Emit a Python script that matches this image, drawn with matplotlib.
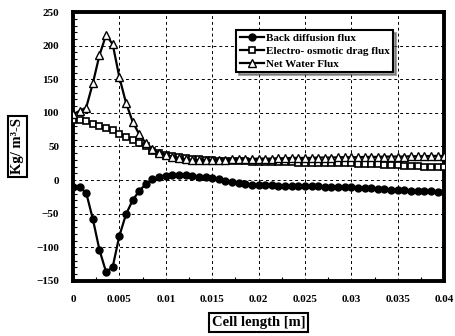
import numpy as np
import matplotlib
matplotlib.use("Agg")
import matplotlib.pyplot as plt
from matplotlib.ticker import MultipleLocator

plt.rcParams['font.family'] = ['Liberation Serif', 'DejaVu Serif']
plt.rcParams['font.weight'] = 'bold'

# cell-length grid (57 uniformly spaced points over 0..0.04 m)
x = np.linspace(0.0, 0.04, 57)

back_diffusion = [
    -10, -10, -19, -58, -104, -137, -129, -83, -51, -30,
    -16, -6, 1, 4, 6, 7, 7, 7, 6, 5,
    4, 2.5, 1, -1, -3, -5, -6, -7, -7.5, -8,
    -8, -8.5, -8.5, -9, -9, -9, -9.5, -9.5, -10, -10,
    -10.5, -10.5, -11, -11.5, -12, -12.5, -13, -13.5, -14, -14.5,
    -15, -15.5, -16, -16, -16.5, -17, -17,
]

electro_osmotic = [
    89, 89, 88, 84, 81, 78, 74, 69, 64, 60,
    55, 51, 44, 41, 38, 36, 34, 33, 32, 31,
    30, 29.5, 29, 29, 28.5, 28, 28, 27.5, 27, 27,
    27, 26.5, 26.5, 26.5, 26, 26, 26, 26, 25.5, 25.5,
    25.5, 25, 25, 24.5, 24.5, 24, 23.5, 23, 22.5, 22,
    21.5, 21, 20.5, 20, 20, 19.5, 19,
]

net_water = [
    98, 103, 108, 144, 186, 216, 202, 153, 115, 87,
    68, 55, 46, 41, 38, 35, 33, 31, 30, 30,
    30, 30, 30, 30.5, 31, 31, 31, 31.5, 32, 32,
    32, 32.5, 32.5, 33, 33, 33, 33, 33.5, 33.5, 33.5,
    34, 34, 34, 34, 34.5, 34.5, 34.5, 35, 35, 35,
    35, 35.5, 35.5, 35.5, 36, 36, 36,
]

fig = plt.figure(figsize=(4.56, 3.36), dpi=100)
ax = fig.add_axes([0.160, 0.164, 0.814, 0.800])

lw = 1.6
ax.plot(x, back_diffusion, '-o', color='black', lw=lw, ms=5,
        mfc='black', mec='black', label='Back diffusion flux', zorder=3)
ax.plot(x, electro_osmotic, '-s', color='black', lw=lw, ms=5,
        mfc='white', mec='black', mew=1.2, label='Electro- osmotic drag flux', zorder=3)
ax.plot(x, net_water, '-^', color='black', lw=lw, ms=5.5,
        mfc='white', mec='black', mew=1.0, label='Net Water Flux', zorder=4)

ax.set_xlim(0, 0.04)
ax.set_ylim(-150, 250)
ax.yaxis.set_major_locator(MultipleLocator(50))
ax.xaxis.set_minor_locator(MultipleLocator(0.0025))
ax.yaxis.set_minor_locator(MultipleLocator(10))
ax.set_xticks([0, 0.005, 0.01, 0.015, 0.02, 0.025, 0.03, 0.035, 0.04])
ax.set_xticklabels(['0', '0.005', '0.01', '0.015', '0.02', '0.025', '0.03', '0.035', '0.04'])

ax.grid(True, which='major', linestyle=(0, (3, 3)), color='black', lw=0.7)
ax.tick_params(axis='both', which='major', length=0, labelsize=8, pad=10)
ax.tick_params(axis='both', which='minor', direction='in', length=3, width=0.8)
for lab in ax.get_xticklabels() + ax.get_yticklabels():
    lab.set_fontweight('bold')

for sp in ax.spines.values():
    sp.set_linewidth(2.8)

ax.set_xlabel('Cell length [m]', fontsize=10.5, fontweight='bold', labelpad=9,
              bbox=dict(boxstyle='square,pad=0.2', fc='white', ec='black', lw=1.5))
ax.set_ylabel('Kg/ m³-S', fontsize=10.5, fontweight='bold', labelpad=8,
              bbox=dict(boxstyle='square,pad=0.2', fc='white', ec='black', lw=1.5))
ax.yaxis.set_label_coords(-0.132, 0.50)

leg = ax.legend(loc='upper left', bbox_to_anchor=(0.425, 0.955), frameon=True,
                fancybox=False, shadow=True, edgecolor='black', framealpha=1,
                prop={'size': 8, 'weight': 'bold'}, handlelength=2.2,
                handletextpad=0.2, borderpad=0.3, labelspacing=0.3)
leg.get_frame().set_linewidth(1.5)

fig.savefig('out.png', dpi=100)
